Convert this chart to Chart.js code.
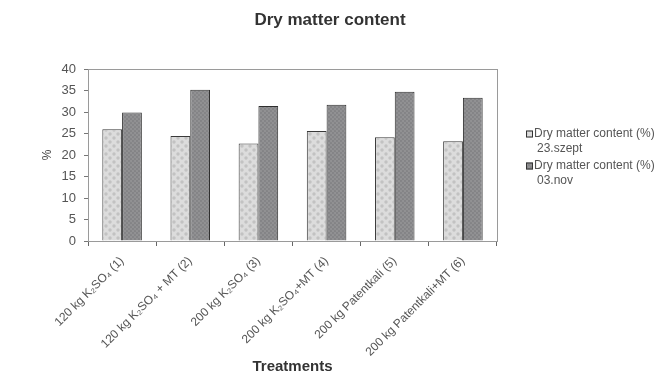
<!DOCTYPE html>
<html>
<head>
<meta charset="utf-8">
<script src="https://cdn.jsdelivr.net/npm/chart.js@4.4.1/dist/chart.umd.min.js"></script>
<style>
  html, body { margin: 0; padding: 0; background: #fff; }
  canvas { display: block; }
</style>
</head>
<body>
<canvas id="chart" width="668" height="376"></canvas>
<script>
// Treatments on the category axis
const treatments = [
  '120 kg K₂SO₄ (1)',
  '120 kg K₂SO₄ + MT (2)',
  '200 kg K₂SO₄ (3)',
  '200 kg K₂SO₄+MT (4)',
  '200 kg Patentkali (5)',
  '200 kg Patentkali+MT (6)'
];

// Dry matter content (%) at the two sampling dates
const septValues = [26.0, 24.4, 22.7, 25.6, 24.1, 23.2];
const novValues  = [29.9, 35.2, 31.4, 31.7, 34.7, 33.3];

// Legend text, one line per entry row
const septLegend = ['Dry matter content (%)', '23.szept'];
const novLegend  = ['Dry matter content (%)', '03.nov'];

const chartTitle = 'Dry matter content';

// Value axis
const yMin = 0;
const yMax = 40;
const yStep = 5;

const FONT = "'Liberation Sans', Arial, sans-serif";

// Small repeating fills for the bars
function makePattern(bg, dot, r, size) {
  const c = document.createElement('canvas');
  c.width = size; c.height = size;
  const g = c.getContext('2d');
  g.fillStyle = bg;
  g.fillRect(0, 0, size, size);
  g.fillStyle = dot;
  g.beginPath();
  g.arc(size * 0.25, size * 0.25, r, 0, Math.PI * 2);
  g.arc(size * 0.75, size * 0.75, r, 0, Math.PI * 2);
  g.fill();
  return g.createPattern(c, 'repeat');
}
const ctx = document.getElementById('chart').getContext('2d');
const lightFill = makePattern('#dcdcdc', '#c2c2c2', 1.7, 8);
const darkFill  = makePattern('#919193', '#838386', 1.1, 4);

// Grey frame around the plot area
const plotFrame = {
  id: 'plotFrame',
  beforeDatasetsDraw(chart) {
    const a = chart.chartArea, c = chart.ctx;
    c.save();
    c.strokeStyle = '#9a9a9a';
    c.lineWidth = 1;
    c.strokeRect(Math.round(a.left) + 0.5, Math.round(a.top) + 0.5,
                 Math.round(a.right - a.left), Math.round(a.bottom - a.top));
    c.restore();
  }
};

// Heading and two-line legend
const sideText = {
  id: 'sideText',
  afterDraw(chart) {
    const c = chart.ctx;
    c.save();
    c.font = 'bold 17px ' + FONT;
    c.fillStyle = '#333';
    c.textAlign = 'center';
    c.textBaseline = 'middle';
    c.fillText(chartTitle, 330, 20);

    const x = 526, rows = [134, 166], lineGap = 15;
    c.font = '12px ' + FONT;
    c.textAlign = 'left';
    chart.data.datasets.forEach((ds, i) => {
      const y = rows[i];
      c.fillStyle = ds.backgroundColor;
      c.fillRect(x, y - 3.5, 7, 7);
      c.strokeStyle = '#333';
      c.lineWidth = 1;
      c.strokeRect(x + 0.5, y - 3.5 + 0.5, 6, 6);
      c.fillStyle = '#555';
      ds.legendLines.forEach((t, k) => {
        c.fillText(t, x + 8 + (k ? 3 : 0), y + k * lineGap);
      });
    });
    c.restore();
  }
};

new Chart(ctx, {
  type: 'bar',
  data: {
    labels: treatments,
    datasets: [
      {
        label: septLegend.join(' '),
        legendLines: septLegend,
        data: septValues,
        backgroundColor: lightFill,
        borderColor: '#3a3a3a',
        borderWidth: 1
      },
      {
        label: novLegend.join(' '),
        legendLines: novLegend,
        data: novValues,
        backgroundColor: darkFill,
        borderColor: '#2e2e2e',
        borderWidth: 1
      }
    ]
  },
  options: {
    responsive: false,
    animation: false,
    layout: { padding: { top: 69, right: 171, bottom: 0, left: 0 } },
    datasets: {
      bar: { categoryPercentage: 0.58, barPercentage: 1.0 }
    },
    plugins: {
      legend: { display: false },
      tooltip: { enabled: false },
      title: { display: false }
    },
    scales: {
      x: {
        grid: { offset: true, drawOnChartArea: false, drawTicks: true, tickLength: 5, color: '#666' },
        border: { color: '#555', width: 1 },
        ticks: {
          autoSkip: false, maxRotation: 45, minRotation: 45,
          color: '#555', padding: 8,
          font: { family: FONT, size: 12 }
        },
        title: {
          display: true, text: 'Treatments', color: '#333',
          font: { family: FONT, size: 15, weight: 'bold' },
          padding: { top: 0, bottom: 0 }
        },
        afterFit(scale) { scale.height = 135; }
      },
      y: {
        min: yMin, max: yMax,
        grid: { drawOnChartArea: false, drawTicks: true, tickLength: 4, color: '#777' },
        border: { color: '#555', width: 1 },
        ticks: {
          stepSize: yStep, color: '#555', padding: 8,
          font: { family: FONT, size: 13 }
        },
        title: {
          display: true, text: '%', color: '#444',
          font: { family: FONT, size: 12 },
          padding: { top: 40, bottom: 0 }
        },
        afterFit(scale) { scale.width = 88; }
      }
    }
  },
  plugins: [plotFrame, sideText]
});
</script>
</body>
</html>
